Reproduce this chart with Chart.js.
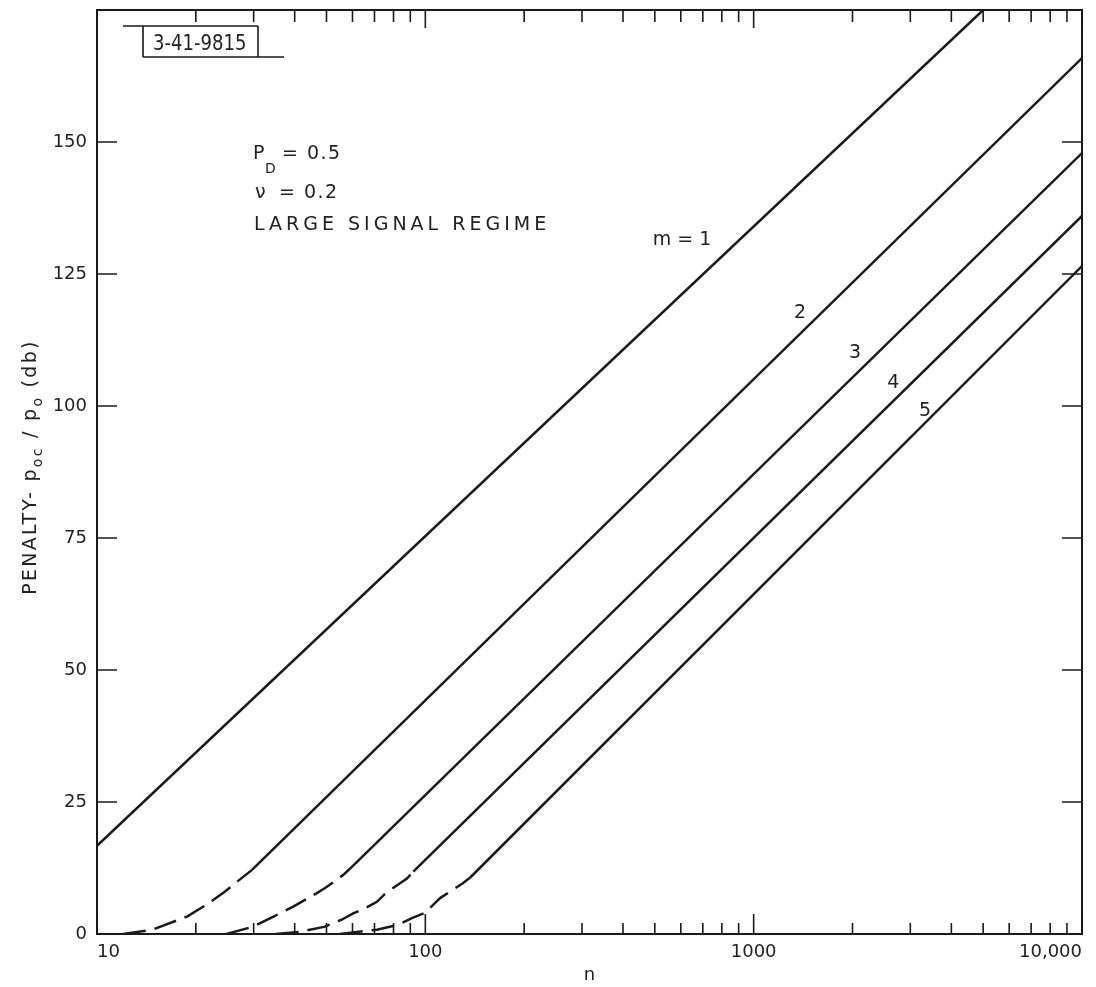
<!DOCTYPE html>
<html>
<head>
<meta charset="utf-8">
<script src="https://cdn.jsdelivr.net/npm/chart.js@4.4.0/dist/chart.umd.min.js"></script>
<style>
  html, body { margin: 0; padding: 0; background: #fff; }
  #wrap { width: 1096px; height: 987px; }
</style>
</head>
<body>
<div id="wrap"><canvas id="myChart" width="1096" height="987"></canvas></div>
<script>
// values: n (log axis) and penalty in db, one pair per curve
var n1 = [10, 5000];
var db1 = [16.7, 175];

var n2 = [12.0, 14.7, 18.8, 21.6, 24.5, 27.2, 29.6, 10000];
var db2 = [0, 0.8, 3.3, 5.6, 8.0, 10.3, 12.1, 165.9];

var n3 = [24.8, 29.9, 34.5, 39.6, 46.6, 49.5, 56.3, 59.0, 10000];
var db3 = [0, 1.4, 3.3, 5.2, 7.7, 8.7, 11.2, 12.4, 147.9];

var n4 = [35, 41.5, 49.5, 55.6, 60.3, 66.0, 71.2, 75.6, 87.9, 91.9, 10000];
var db4 = [0, 0.4, 1.4, 2.7, 3.9, 5.0, 6.1, 7.7, 10.5, 11.8, 136];

var n5 = [54.9, 61.9, 71.2, 82.2, 91, 99.6, 110.9, 120.0, 130.1, 137, 10000];
var db5 = [0, 0.4, 0.8, 1.7, 3.0, 4.0, 6.8, 8.2, 9.6, 10.7, 126.5];

// where the dashed (estimated) part of each curve ends
var dashedUpTo = [0, 29.6, 59.0, 91.9, 137];

var curveNames = ['m = 1', '2', '3', '4', '5'];

var xTicks = [10, 100, 1000, 10000];
var xTickLabels = ['10', '100', '1000', '10,000'];
var xMinor = [20, 30, 40, 50, 60, 70, 80, 90,
              200, 300, 400, 500, 600, 700, 800, 900,
              2000, 3000, 4000, 5000, 6000, 7000, 8000, 9000];
var yTicks = [0, 25, 50, 75, 100, 125, 150];

var ink = '#1a1a1a';
var textInk = '#222';
var fam = '"DejaVu Sans", sans-serif';

// curve labels, placed in data units
var labelSpots = [
  {n: 605, v: 131.4},
  {n: 1384, v: 117.6},
  {n: 2037, v: 110.0},
  {n: 2660, v: 104.4},
  {n: 3327, v: 99.1}
];

function pts(ns, vs) {
  return ns.map(function (n, i) { return {x: n, y: vs[i]}; });
}

var series = [[n1, db1], [n2, db2], [n3, db3], [n4, db4], [n5, db5]];

var datasets = series.map(function (s, i) {
  return {
    label: curveNames[i],
    data: pts(s[0], s[1]),
    borderColor: ink,
    borderWidth: 2.5,
    pointRadius: 0,
    fill: false,
    tension: 0,
    segment: {
      borderDash: function (c) {
        return c.p1.parsed.x <= dashedUpTo[i] ? [23, 9] : undefined;
      }
    }
  };
});

function runs(ctx, parts, x, y) {
  parts.forEach(function (p) {
    ctx.font = (p.sub ? '14px ' : '19px ') + fam;
    ctx.fillText(p.t, x, y + (p.sub ? 6 : 0));
    x += ctx.measureText(p.t).width;
  });
}

function runsWidth(ctx, parts) {
  var w = 0;
  parts.forEach(function (p) {
    ctx.font = (p.sub ? '14px ' : '19px ') + fam;
    w += ctx.measureText(p.t).width;
  });
  return w;
}

var decor = {
  id: 'decor',
  afterDraw: function (chart) {
    var ctx = chart.ctx, a = chart.chartArea;
    var x = chart.scales.x, y = chart.scales.y;
    ctx.save();

    // frame and inward ticks
    ctx.strokeStyle = ink;
    ctx.lineWidth = 2;
    ctx.strokeRect(a.left, a.top, a.right - a.left, a.bottom - a.top);
    ctx.lineWidth = 1.6;
    ctx.beginPath();
    xMinor.forEach(function (v) {
      var px = x.getPixelForValue(v);
      ctx.moveTo(px, a.bottom); ctx.lineTo(px, a.bottom - 11);
      ctx.moveTo(px, a.top); ctx.lineTo(px, a.top + 12);
    });
    xTicks.forEach(function (v) {
      var px = x.getPixelForValue(v);
      ctx.moveTo(px, a.bottom); ctx.lineTo(px, a.bottom - 20);
      ctx.moveTo(px, a.top); ctx.lineTo(px, a.top + 18);
    });
    yTicks.forEach(function (v) {
      if (v === 0) return;
      var py = y.getPixelForValue(v);
      ctx.moveTo(a.left, py); ctx.lineTo(a.left + 20, py);
      ctx.moveTo(a.right, py); ctx.lineTo(a.right - 20, py);
    });
    ctx.stroke();

    // drawing number box
    ctx.lineWidth = 1.6;
    ctx.beginPath();
    ctx.moveTo(123, 26); ctx.lineTo(258, 26);
    ctx.moveTo(143, 57); ctx.lineTo(284, 57);
    ctx.moveTo(143, 26); ctx.lineTo(143, 57);
    ctx.moveTo(258, 26); ctx.lineTo(258, 57);
    ctx.stroke();

    ctx.fillStyle = textInk;
    ctx.textAlign = 'left';
    ctx.textBaseline = 'alphabetic';
    ctx.save();
    ctx.translate(153, 50);
    ctx.scale(0.82, 1);
    ctx.font = '22px ' + fam;
    ctx.fillText('3-41-9815', 0, 0);
    ctx.restore();

    // parameters
    if ('letterSpacing' in ctx) ctx.letterSpacing = '1.5px';
    ctx.font = '19px ' + fam;
    ctx.fillText('P', 253, 159);
    ctx.font = '14px ' + fam;
    ctx.fillText('D', 265, 173);
    ctx.font = '19px ' + fam;
    ctx.fillText('= 0.5', 282, 159);
    ctx.fillText('\u03bd', 255, 198);
    ctx.fillText('= 0.2', 279, 198);
    if ('letterSpacing' in ctx) ctx.letterSpacing = '4px';
    ctx.fillText('LARGE SIGNAL REGIME', 254, 230);

    // curve labels
    if ('letterSpacing' in ctx) ctx.letterSpacing = '0px';
    ctx.textAlign = 'center';
    ctx.textBaseline = 'middle';
    labelSpots.forEach(function (s, i) {
      ctx.fillText(curveNames[i], x.getPixelForValue(s.n), y.getPixelForValue(s.v));
    });

    // y axis title with subscripts
    var parts = [
      {t: 'PENALTY- '}, {t: 'p'}, {t: 'oc', sub: true}, {t: ' / '},
      {t: 'p'}, {t: 'o', sub: true}, {t: ' (db)'}
    ];
    if ('letterSpacing' in ctx) ctx.letterSpacing = '2.3px';
    ctx.textAlign = 'left';
    ctx.textBaseline = 'alphabetic';
    var w = runsWidth(ctx, parts);
    ctx.translate(36, 467);
    ctx.rotate(-Math.PI / 2);
    runs(ctx, parts, -w / 2, 0);

    ctx.restore();
  }
};

var chart = new Chart(document.getElementById('myChart').getContext('2d'), {
  type: 'line',
  data: { datasets: datasets },
  options: {
    responsive: false,
    animation: false,
    layout: { padding: { left: 0, right: 14, top: 10, bottom: 0 } },
    plugins: { legend: { display: false }, tooltip: { enabled: false } },
    scales: {
      x: {
        type: 'logarithmic',
        min: 10,
        max: 10000,
        afterBuildTicks: function (s) {
          s.ticks = xTicks.map(function (v) { return {value: v, major: true}; });
        },
        afterFit: function (s) {
          s.height = 53; s.paddingLeft = 0; s.paddingRight = 0;
        },
        ticks: {
          align: 'inner',
          autoSkip: false,
          maxRotation: 0,
          padding: 8,
          color: textInk,
          font: { family: fam, size: 18 },
          callback: function (v) {
            var i = xTicks.indexOf(v);
            return i < 0 ? '' : xTickLabels[i];
          }
        },
        grid: { display: false, drawTicks: false },
        border: { display: false },
        title: {
          display: true,
          text: 'n',
          color: textInk,
          font: { family: fam, size: 18 },
          padding: { top: 0, bottom: 1 }
        }
      },
      y: {
        min: 0,
        max: 175,
        afterBuildTicks: function (s) {
          s.ticks = yTicks.map(function (v) { return {value: v}; });
        },
        afterFit: function (s) {
          s.width = 97; s.paddingTop = 0; s.paddingBottom = 0;
        },
        ticks: {
          padding: 10,
          color: textInk,
          font: { family: fam, size: 18 }
        },
        grid: { display: false, drawTicks: false },
        border: { display: false }
      }
    }
  },
  plugins: [decor]
});
</script>
</body>
</html>
